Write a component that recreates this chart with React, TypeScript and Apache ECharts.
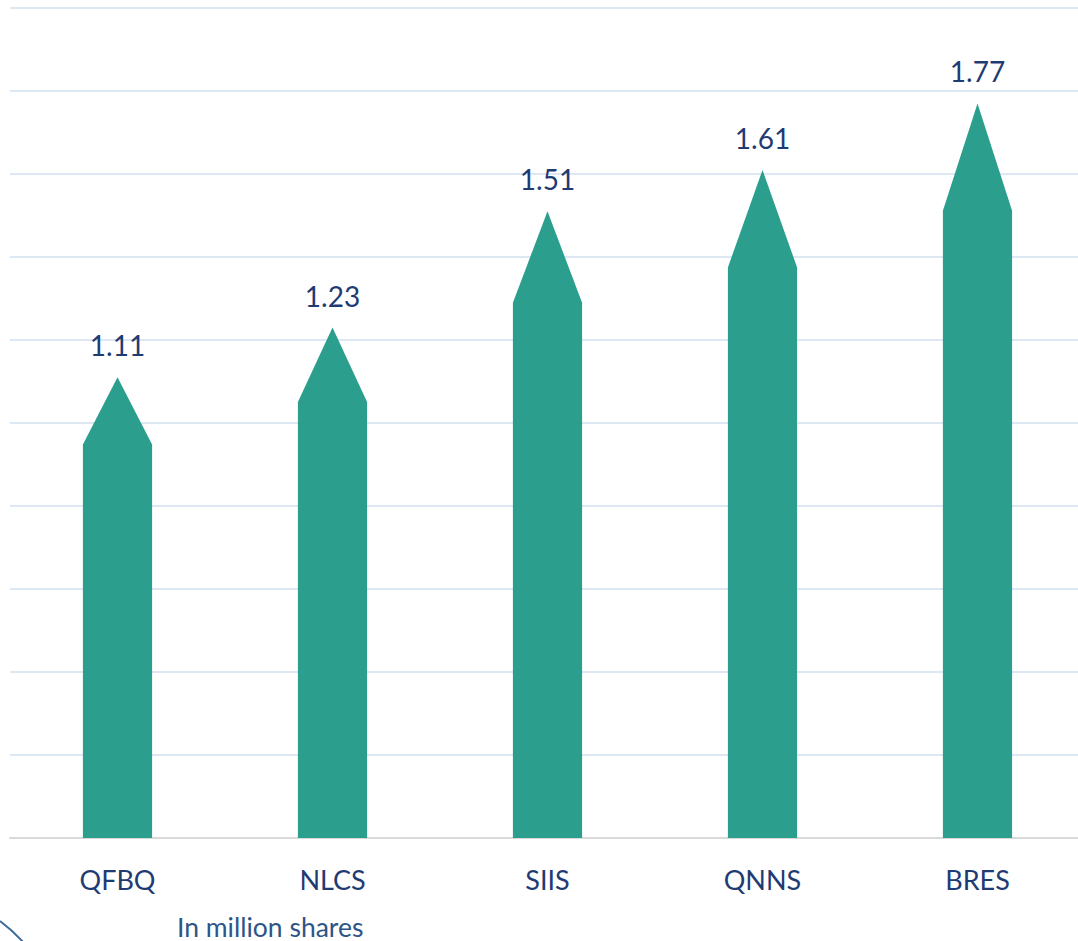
import React, { useEffect, useRef } from "react";
import * as echarts from "echarts";

const categories = ["QFBQ", "NLCS", "SIIS", "QNNS", "BRES"];
const values = [1.11, 1.23, 1.51, 1.61, 1.77];
const unitNote = "In million shares";

export default function App() {
  const ref = useRef<HTMLDivElement>(null);
  useEffect(() => {
    const chart = echarts.init(ref.current!, null, { renderer: "svg" });
    const font = "Lato, 'Open Sans', sans-serif";
    chart.setOption({
      animation: false,
      grid: { left: 10, right: -7, top: 8, bottom: 103, outerBoundsMode: "none", containLabel: false },
      xAxis: {
        type: "category",
        data: categories,
        axisLine: { lineStyle: { color: "#d9d9d9", width: 2 } },
        axisTick: { show: false },
        axisLabel: { color: "#1f3b73", fontSize: 27, fontFamily: font, margin: 28 },
      },
      yAxis: {
        type: "value",
        min: 0,
        max: 2,
        interval: 0.2,
        axisLabel: { show: false },
        axisLine: { show: false },
        axisTick: { show: false },
        splitLine: { lineStyle: { color: "#dde8f4", width: 2 } },
      },
      series: [
        {
          type: "pictorialBar",
          data: values,
          symbol: "path://M0,14.6L50,0L100,14.6L100,100L0,100Z",
          symbolSize: [69, "100%"],
          symbolPosition: "start",
          itemStyle: { color: "#2b9e8e" },
          label: {
            show: true,
            position: "top",
            distance: 18,
            color: "#1f3b73",
            fontSize: 28,
            fontFamily: font,
            formatter: (p: any) => p.value.toFixed(2),
          },
        },
      ],
      graphic: [
        {
          type: "text",
          left: 177,
          top: 913,
          style: { text: unitNote, fill: "#2d5587", fontSize: 26.5, fontFamily: font },
        },
        {
          type: "bezierCurve",
          shape: { x1: 0, y1: 921, x2: 24, y2: 943, cpx1: 8, cpy1: 927, cpx2: 16, cpy2: 934 },
          style: { stroke: "#3a6a9a", lineWidth: 2, fill: "none" },
        },
      ],
    });
    return () => chart.dispose();
  }, []);
  return (
    <div
      ref={ref}
      style={{ position: "absolute", left: 0, top: 0, width: 1078, height: 941, background: "#fff" }}
    />
  );
}
